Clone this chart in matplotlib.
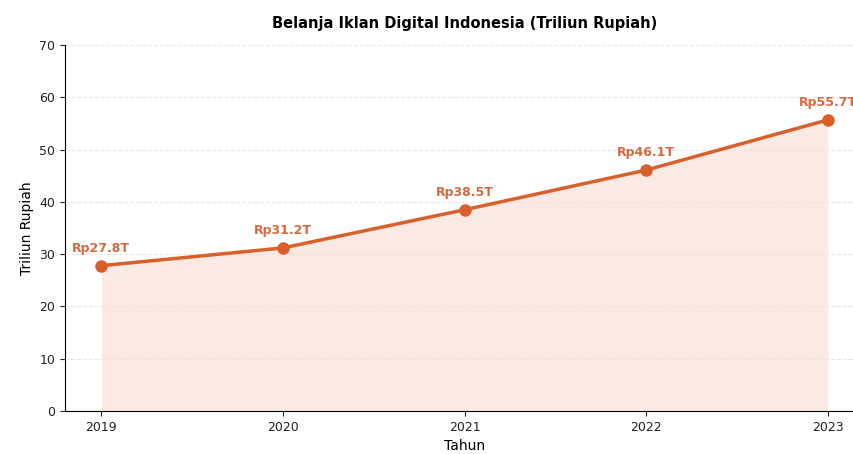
import matplotlib
matplotlib.use("Agg")
import matplotlib.pyplot as plt

years = [2019, 2020, 2021, 2022, 2023]
spend = [27.8, 31.2, 38.5, 46.1, 55.7]
labels = ["Rp27.8T", "Rp31.2T", "Rp38.5T", "Rp46.1T", "Rp55.7T"]

LINE = "#D9602B"

fig = plt.figure(figsize=(8.54, 4.54), dpi=100)
ax = fig.add_axes([0.0761, 0.0947, 0.936, 0.806])

ax.fill_between(years, spend, color="#F9E3DA", alpha=0.75, lw=0)
ax.plot(years, spend, color=LINE, lw=2.5, marker="o", ms=8, zorder=3)
for x, y, t in zip(years, spend, labels):
    ax.annotate(t, (x, y), xytext=(0, 8), textcoords="offset points",
                ha="center", va="bottom", fontsize=9, fontweight="bold",
                color="#D46A3E")

ax.set_xlim(2018.8, 2023.2)
ax.set_ylim(0, 70)
ax.set_xticks(years)
ax.set_yticks(range(0, 71, 10))
ax.tick_params(labelsize=9, colors="#222222")
ax.grid(axis="y", linestyle="--", color="#e6e6e6", lw=0.8)
ax.set_axisbelow(True)
for s in ["top", "right"]:
    ax.spines[s].set_visible(False)

ax.set_title("Belanja Iklan Digital Indonesia (Triliun Rupiah)",
             fontsize=10.5, fontweight="bold", pad=12)
ax.set_xlabel("Tahun", fontsize=10)
ax.set_ylabel("Triliun Rupiah", fontsize=10)

fig.savefig("out.png", dpi=100)
